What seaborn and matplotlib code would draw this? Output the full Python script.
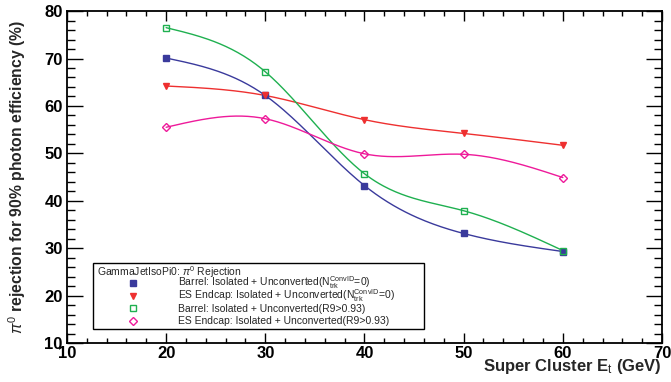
import numpy as np
import pandas as pd
import matplotlib
matplotlib.use("Agg")
import matplotlib.pyplot as plt
import seaborn as sns
from matplotlib.lines import Line2D
from matplotlib.patches import Rectangle
from matplotlib.ticker import MultipleLocator

sns.set_theme(style="ticks")
plt.rcParams['font.family'] = ['Liberation Sans', 'DejaVu Sans']
plt.rcParams['mathtext.fontset'] = 'custom'
plt.rcParams['mathtext.rm'] = 'Liberation Sans'
plt.rcParams['mathtext.it'] = 'Liberation Sans:italic'
plt.rcParams['mathtext.bf'] = 'Liberation Sans:bold'

# ---- data ----
et = [20, 30, 40, 50, 60]
barrel_nconv = [70.1, 62.2, 43.2, 33.1, 29.3]
endcap_nconv = [64.2, 62.2, 57.1, 54.2, 51.7]
barrel_r9 = [76.5, 67.2, 45.7, 37.9, 29.5]
endcap_r9 = [55.5, 57.3, 49.9, 49.8, 44.9]

labels = [
    r"Barrel: Isolated + Unconverted(N$^{\rm ConvID}_{\rm trk}$=0)",
    r"ES Endcap: Isolated + Unconverted(N$^{\rm ConvID}_{\rm trk}$=0)",
    "Barrel: Isolated + Unconverted(R9>0.93)",
    "ES Endcap: Isolated + Unconverted(R9>0.93)",
]
legend_title = r"GammaJetIsoPi0: $\pi^{0}$ Rejection"
x_label = r"Super Cluster E$_{\rm t}$ (GeV)"
y_label = r"$\pi^{0}$ rejection for 90% photon efficiency (%)"


def natural_spline(x, y, n=200):
    x = np.asarray(x, float)
    y = np.asarray(y, float)
    k = len(x)
    h = np.diff(x)
    A = np.zeros((k, k))
    b = np.zeros(k)
    A[0, 0] = 1
    A[-1, -1] = 1
    for i in range(1, k - 1):
        A[i, i - 1] = h[i - 1]
        A[i, i] = 2 * (h[i - 1] + h[i])
        A[i, i + 1] = h[i]
        b[i] = 6 * ((y[i + 1] - y[i]) / h[i] - (y[i] - y[i - 1]) / h[i - 1])
    M = np.linalg.solve(A, b)
    xs = np.linspace(x[0], x[-1], n)
    ys = np.empty_like(xs)
    for j, xv in enumerate(xs):
        i = min(np.searchsorted(x, xv, side='right') - 1, k - 2)
        t1 = x[i + 1] - xv
        t2 = xv - x[i]
        ys[j] = (M[i] * t1 ** 3 / (6 * h[i]) + M[i + 1] * t2 ** 3 / (6 * h[i])
                 + (y[i] / h[i] - M[i] * h[i] / 6) * t1
                 + (y[i + 1] / h[i] - M[i + 1] * h[i] / 6) * t2)
    return xs, ys


series = [
    (barrel_nconv, '#3a3a9c', 's', True, 4.3),
    (endcap_nconv, '#ee3030', 'v', True, 4.6),
    (barrel_r9, '#1fb050', 's', False, 5.0),
    (endcap_r9, '#ee1a9a', 'D', False, 3.6),
]

W, H = 671, 382
fig = plt.figure(figsize=(W / 100, H / 100), dpi=100)
ax = fig.add_axes([0.0998, 0.102, 0.8868, 0.869])

for (vals, col, mk, filled, ms) in series:
    xs, ys = natural_spline(et, vals)
    curve = pd.DataFrame({"x": xs, "y": ys})
    sns.lineplot(data=curve, x="x", y="y", ax=ax, color=col, lw=1.0,
                 estimator=None, sort=False)
    ax.plot(et, vals, linestyle='none', marker=mk, ms=ms, color=col,
            mfc=col if filled else 'none', mec=col, mew=1.0, zorder=3)

ax.set_xlim(10, 70)
ax.set_ylim(10, 80)
ax.xaxis.set_major_locator(MultipleLocator(10))
ax.xaxis.set_minor_locator(MultipleLocator(2))
ax.yaxis.set_major_locator(MultipleLocator(10))
ax.yaxis.set_minor_locator(MultipleLocator(2))
ax.tick_params(axis='both', which='both', direction='in', top=True,
               right=True, colors='black', width=1.0)
ax.tick_params(axis='x', which='major', length=7.5, pad=2)
ax.tick_params(axis='x', which='minor', length=3.8)
ax.tick_params(axis='y', which='major', length=11.5, pad=3)
ax.tick_params(axis='y', which='minor', length=5.8)
for lab in ax.get_xticklabels() + ax.get_yticklabels():
    lab.set_fontweight('bold')
    lab.set_fontsize(12)
for sp in ax.spines.values():
    sp.set_color('black')
    sp.set_linewidth(1.3)

ax.set_xlabel(x_label, fontsize=12, fontweight='bold', ha='right', x=1.0,
              labelpad=-3)
ax.set_ylabel(y_label, fontsize=11.3, fontweight='bold', labelpad=12)


# ---- legend box drawn in figure pixel coordinates ----
def fx(px):
    return px / W


def fy(py):
    return 1 - py / H


fig.patches.append(Rectangle((fx(93), fy(329)), fx(424) - fx(93),
                             fy(263) - fy(329), transform=fig.transFigure,
                             facecolor='white', edgecolor='black', lw=1.0,
                             zorder=5))
fig.text(fx(97), fy(275.5), legend_title, fontsize=7.5, va='baseline',
         ha='left', zorder=6)
row_marker_y = [282.5, 295.5, 308, 321]
row_base_y = [286, 299, 311.5, 324.5]
for (vals, col, mk, filled, ms), lab, ry, by in zip(series, labels,
                                                    row_marker_y, row_base_y):
    fig.add_artist(Line2D([fx(133)], [fy(ry)], transform=fig.transFigure,
                          linestyle='none', marker=mk, ms=ms, color=col,
                          mfc=col if filled else 'none', mec=col, mew=1.0,
                          zorder=6))
    fig.text(fx(178), fy(by), lab, fontsize=7.5, va='baseline', ha='left',
             zorder=6)

fig.savefig('out.png', dpi=100)
